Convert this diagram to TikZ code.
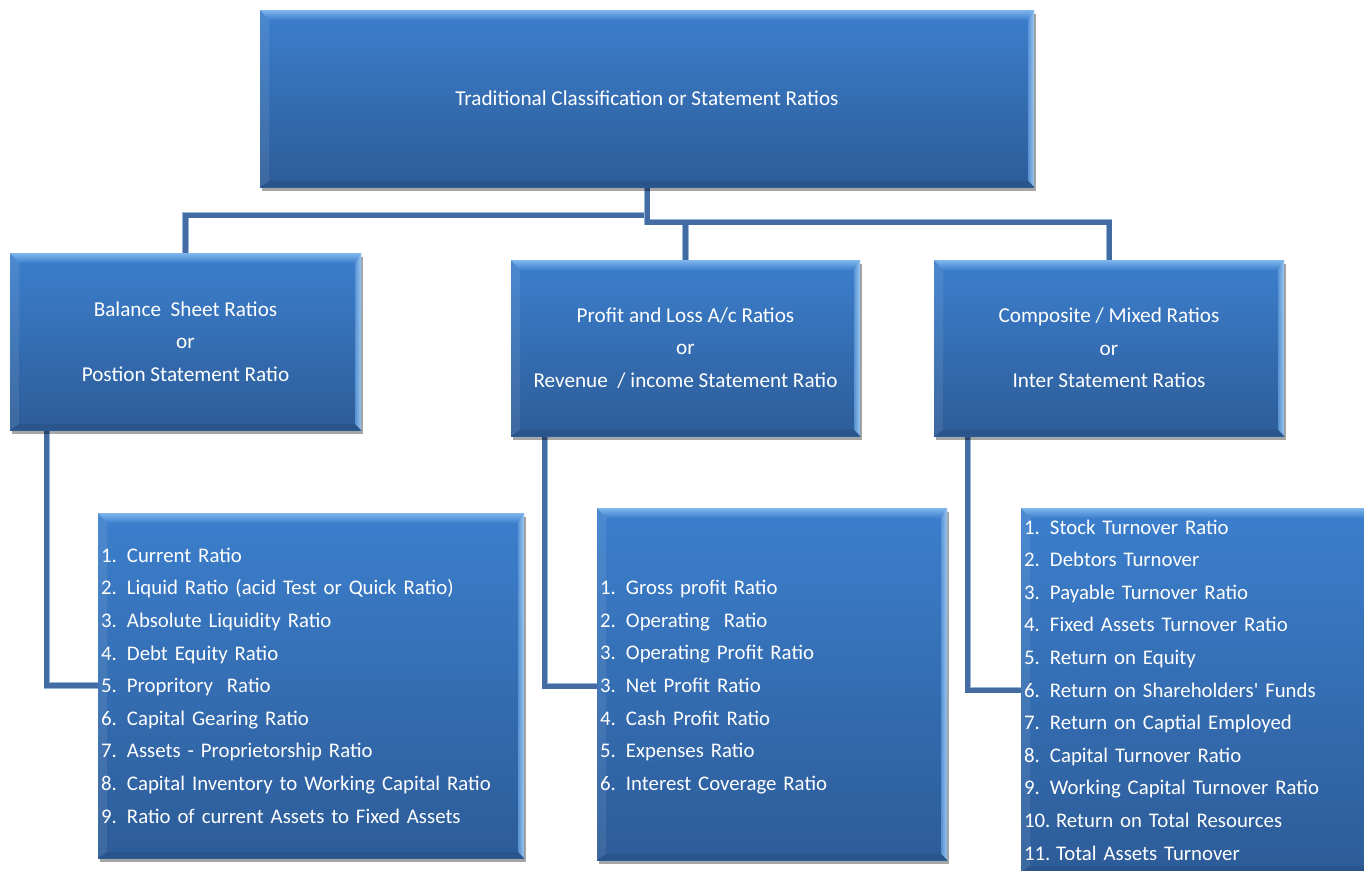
\documentclass[tikz,border=0pt]{standalone}
\usepackage{fontspec}
\setmainfont{Carlito}
\usetikzlibrary{calc,shadows,backgrounds}

\definecolor{boxtop}{RGB}{60,127,205}
\definecolor{boxbot}{RGB}{45,92,152}
\definecolor{bevhi}{RGB}{128,182,238}
\definecolor{bevside}{RGB}{168,208,244}
\definecolor{bevlow}{RGB}{40,80,132}
\definecolor{linkblue}{RGB}{66,108,162}
\definecolor{linkedge}{RGB}{150,182,220}

\newcommand{\itm}[1]{\makebox[26pt][l]{#1}}
\newcommand{\itmw}[1]{\makebox[32pt][l]{#1}}

\tikzset{
  ratiobox/.style={
    top color=boxtop, bottom color=boxbot, text=white, inner sep=0pt,
    drop shadow={shadow xshift=2pt, shadow yshift=-4pt, opacity=.35, fill=black},
    path picture={
      \path (path picture bounding box.north west) coordinate (bNW)
            (path picture bounding box.north east) coordinate (bNE)
            (path picture bounding box.south west) coordinate (bSW)
            (path picture bounding box.south east) coordinate (bSE);
      % bevelled rim: lit top and right, shaded bottom
      \shade[top color=bevhi, bottom color=boxtop]
        (bNW) -- (bNE) -- ([shift={(-6pt,-10pt)}]bNE) -- ([shift={(9pt,-10pt)}]bNW) -- cycle;
      \shade[left color=boxtop!70!bevside, right color=bevside, opacity=.9]
        (bNE) -- (bSE) -- ([shift={(-6pt,6pt)}]bSE) -- ([shift={(-6pt,-10pt)}]bNE) -- cycle;
      \fill[bevlow, opacity=.6]
        (bSW) -- (bSE) -- ([shift={(-6pt,6pt)}]bSE) -- ([shift={(9pt,6pt)}]bSW) -- cycle;
      \fill[white, opacity=.08]
        (bNW) -- (bSW) -- ([shift={(9pt,6pt)}]bSW) -- ([shift={(9pt,-10pt)}]bNW) -- cycle;
    }},
  headbox/.style={ratiobox, align=center, font=\fontsize{21.2}{32.6}\selectfont},
  listbox/.style={ratiobox, align=left, inner xsep=3pt, font=\fontsize{20.8}{32.6}\selectfont},
  link/.style={line width=5pt, draw=linkblue, line join=miter,
    preaction={draw=linkedge, line width=6.5pt}},
}

\begin{document}
\begin{tikzpicture}[x=1pt,y=-1pt]
\useasboundingbox (0,0) rectangle (1364,870);
\clip (0,0) rectangle (1364,870);

% main heading
\node[headbox, minimum width=774pt, minimum height=177pt] (top) at (647,98.5)
  {Traditional Classification or Statement Ratios};

% three groups
\node[headbox, minimum width=351pt, minimum height=177pt] (bs) at (185.5,341.5)
  {Balance\ \ Sheet Ratios\\or\\Postion Statement Ratio};
\node[headbox, minimum width=349pt, minimum height=176pt] (pl) at (685.5,348)
  {Profit and Loss A/c Ratios\\or\\Revenue\ \ / income Statement Ratio};
\node[headbox, minimum width=350pt, minimum height=176pt] (cm) at (1109,348)
  {Composite / Mixed Ratios\\or\\Inter Statement Ratios};

% ratio lists
\node[listbox, text width=420pt, minimum height=345pt] (bslist) at (311,685.5)
  {\itm{1.}Current Ratio\\
   \itm{2.}Liquid Ratio (acid Test or Quick Ratio)\\
   \itm{3.}Absolute Liquidity Ratio\\
   \itm{4.}Debt Equity Ratio\\
   \itm{5.}Propritory\ \ Ratio\\
   \itm{6.}Capital Gearing Ratio\\
   \itm{7.}Assets - Proprietorship Ratio\\
   \itm{8.}Capital Inventory to Working Capital Ratio\\
   \itm{9.}Ratio of current Assets to Fixed Assets};
\node[listbox, text width=344pt, minimum height=352pt] (pllist) at (772,684)
  {\rule{0pt}{20.5pt}\itm{1.}Gross profit Ratio\\
   \itm{2.}Operating\ \ Ratio\\
   \itm{3.}Operating Profit Ratio\\
   \itm{3.}Net Profit Ratio\\
   \itm{4.}Cash Profit Ratio\\
   \itm{5.}Expenses Ratio\\
   \itm{6.}Interest Coverage Ratio};
\node[listbox, text width=345pt, minimum height=364pt] (cmlist) at (1196.5,690)
  {\itm{1.}Stock Turnover Ratio\\
   \itm{2.}Debtors Turnover\\
   \itm{3.}Payable Turnover Ratio\\
   \itm{4.}Fixed Assets Turnover Ratio\\
   \itm{5.}Return on Equity\\
   \itm{6.}Return on Shareholders\textquotesingle{} Funds\\
   \itm{7.}Return on Captial Employed\\
   \itm{8.}Capital Turnover Ratio\\
   \itm{9.}Working Capital Turnover Ratio\\
   \itmw{10.}Return on Total Resources\\
   \itmw{11.}Total Assets Turnover};

% connectors behind the boxes
\begin{scope}[on background layer]
  \draw[link] (top.south) -- ++(0,28) -| (bs.north);
  \draw[link] (top.south) -- ++(0,35) -| (pl.north);
  \draw[link] (top.south) -- ++(0,35) -| (cm.north);
  \draw[link] ([xshift=37pt]bs.south west) |- (bslist.west);
  \draw[link] ([xshift=34pt]pl.south west) |- ([yshift=-2pt]pllist.west);
  \draw[link] ([xshift=34pt]cm.south west) |- (cmlist.west);
\end{scope}
\end{tikzpicture}
\end{document}
